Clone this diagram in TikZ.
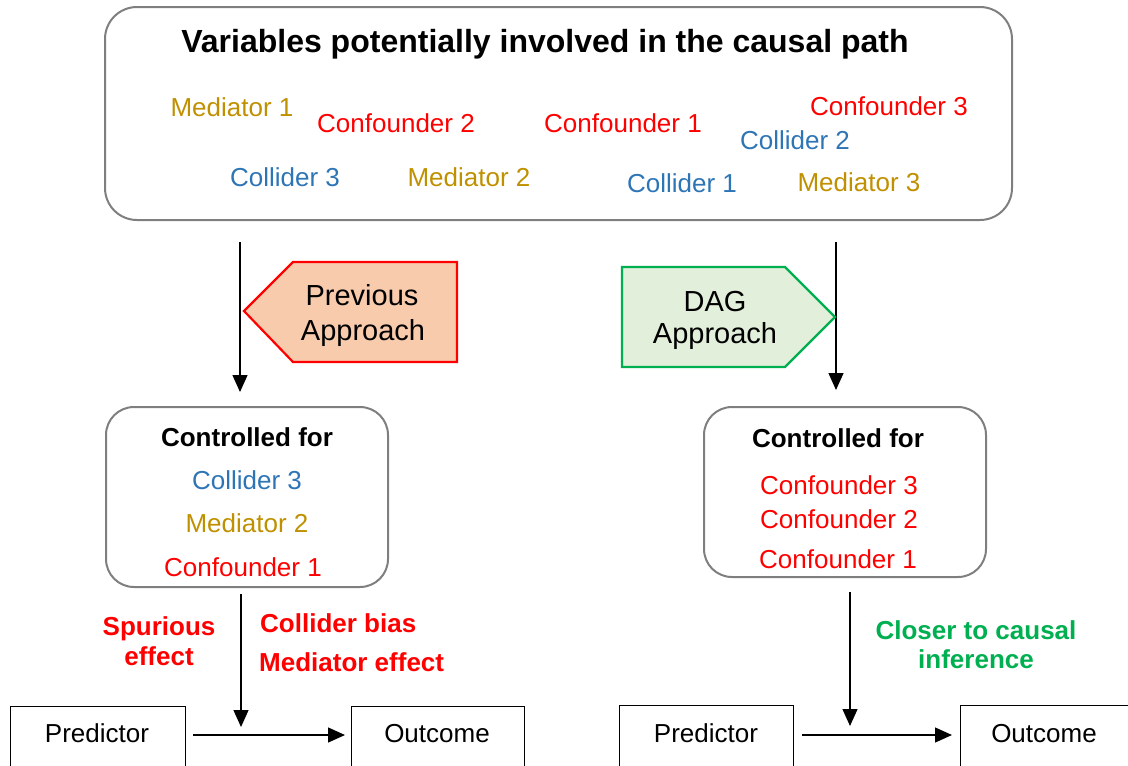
\documentclass[tikz,border=0pt]{standalone}
\usepackage{fontspec}
\setmainfont{Liberation Sans}
\usetikzlibrary{arrows.meta}
\definecolor{cred}{HTML}{FF0000}
\definecolor{cblue}{HTML}{2E75B6}
\definecolor{cgold}{HTML}{BF9000}
\definecolor{cgreen}{HTML}{00B050}
\definecolor{cgray}{HTML}{7F7F7F}
\definecolor{cpeach}{HTML}{F8CBAD}
\definecolor{cmint}{HTML}{E2EFDA}
\begin{document}
\begin{tikzpicture}[x=1pt,y=-1pt,
  txt/.style={font=\fontsize{26}{31}\selectfont, anchor=base, inner sep=0pt},
  btxt/.style={txt, font=\fontsize{26}{31}\selectfont\bfseries},
  ptxt/.style={txt, font=\fontsize{29}{34}\selectfont},
  rbox/.style={draw=cgray, line width=2pt, rounded corners=32pt},
  sbox/.style={draw=black, line width=1pt},
  arr/.style={line width=1.3pt, -{Triangle[length=17pt,width=15pt]}},
  cf/.style={txt, text=cred},
  cl/.style={txt, text=cblue},
  md/.style={txt, text=cgold}]
\useasboundingbox (0,0) rectangle (1128,766);
\clip (0,0) rectangle (1128,766);

% top box
\draw[rbox] (105,7) rectangle (1012,220);
\node[txt, font=\fontsize{32}{37}\selectfont\bfseries] (title) at (545,52) {Variables potentially involved in the causal path};
\node[md] (m1) at (232,116.5) {Mediator 1};
\node[cf] (c2) at (396,132) {Confounder 2};
\node[cf] (c1) at (623,132.5) {Confounder 1};
\node[cf] (c3) at (889,115) {Confounder 3};
\node[cl] (k2) at (795,149) {Collider 2};
\node[cl] (k3) at (285,186.5) {Collider 3};
\node[md] (m2) at (469,186.5) {Mediator 2};
\node[cl] (k1) at (682,192) {Collider 1};
\node[md] (m3) at (859,191) {Mediator 3};

% vertical arrows from top
\coordinate (la0) at (240,242);
\coordinate (la1) at (240,392);
\coordinate (ra0) at (836,242);
\coordinate (ra1) at (836,390);
\draw[arr] (la0) -- (la1);
\draw[arr] (ra0) -- (ra1);

% pentagon arrows
\draw[draw=cred, fill=cpeach, line width=2.2pt] (244,311) -- (293,262) -- (457,262) -- (457,362) -- (293,362) -- cycle;
\node[ptxt] (prev1) at (362,305) {Previous};
\node[ptxt] (prev2) at (363,340) {Approach};
\draw[draw=cgreen, fill=cmint, line width=2.2pt] (622,267) -- (785,267) -- (835,317) -- (785,367) -- (622,367) -- cycle;
\node[ptxt] (dag1) at (715,311) {DAG};
\node[ptxt] (dag2) at (715,343) {Approach};

% controlled boxes
\draw[rbox, rounded corners=28pt] (106,407) rectangle (388,587);
\node[btxt] (lct) at (247,446) {Controlled for};
\node[cl] (lk3) at (247,489) {Collider 3};
\node[md] (lm2) at (247,532) {Mediator 2};
\node[cf] (lc1) at (243,576) {Confounder 1};

\draw[rbox, rounded corners=28pt] (704,407) rectangle (986,577);
\node[btxt] (rct) at (838,447) {Controlled for};
\node[cf] (rc3) at (839,494) {Confounder 3};
\node[cf] (rc2) at (839,528) {Confounder 2};
\node[cf] (rc1) at (838,568) {Confounder 1};

% lower arrows
\coordinate (lb0) at (241,594);
\coordinate (lb1) at (241,727);
\coordinate (rb0) at (850,592);
\coordinate (rb1) at (850,726);
\draw[arr] (lb0) -- (lb1);
\draw[arr] (rb0) -- (rb1);

\node[btxt, text=cred] (sp1) at (159,635) {Spurious};
\node[btxt, text=cred] (sp2) at (159,665) {effect};
\node[btxt, text=cred, anchor=base west] (cb) at (260,632) {Collider bias};
\node[btxt, text=cred, anchor=base west] (me) at (259,671) {Mediator effect};
\node[btxt, text=cgreen] (cl1) at (976,639) {Closer to causal};
\node[btxt, text=cgreen] (cl2) at (976,668) {inference};

% bottom boxes
\node[sbox, minimum width=175pt, minimum height=90pt, anchor=north west] (lpred) at (10,706) {};
\node[sbox, minimum width=173pt, minimum height=90pt, anchor=north west] (lout) at (351,706) {};
\node[sbox, minimum width=174pt, minimum height=90pt, anchor=north west] (rpred) at (619,705) {};
\node[sbox, minimum width=200pt, minimum height=90pt, anchor=north west] (rout) at (960,705) {};
\node[txt] (lpt) at (97,742) {Predictor};
\node[txt] (lot) at (437,742) {Outcome};
\node[txt] (rpt) at (706,742) {Predictor};
\node[txt] (rot) at (1044,742) {Outcome};
\draw[arr] ([xshift=7pt]lpred.north east |- 0,735) -- ([xshift=-6pt]lout.north west |- 0,735);
\draw[arr] ([xshift=8pt]rpred.north east |- 0,735) -- ([xshift=-8pt]rout.north west |- 0,735);
\end{tikzpicture}
\end{document}
